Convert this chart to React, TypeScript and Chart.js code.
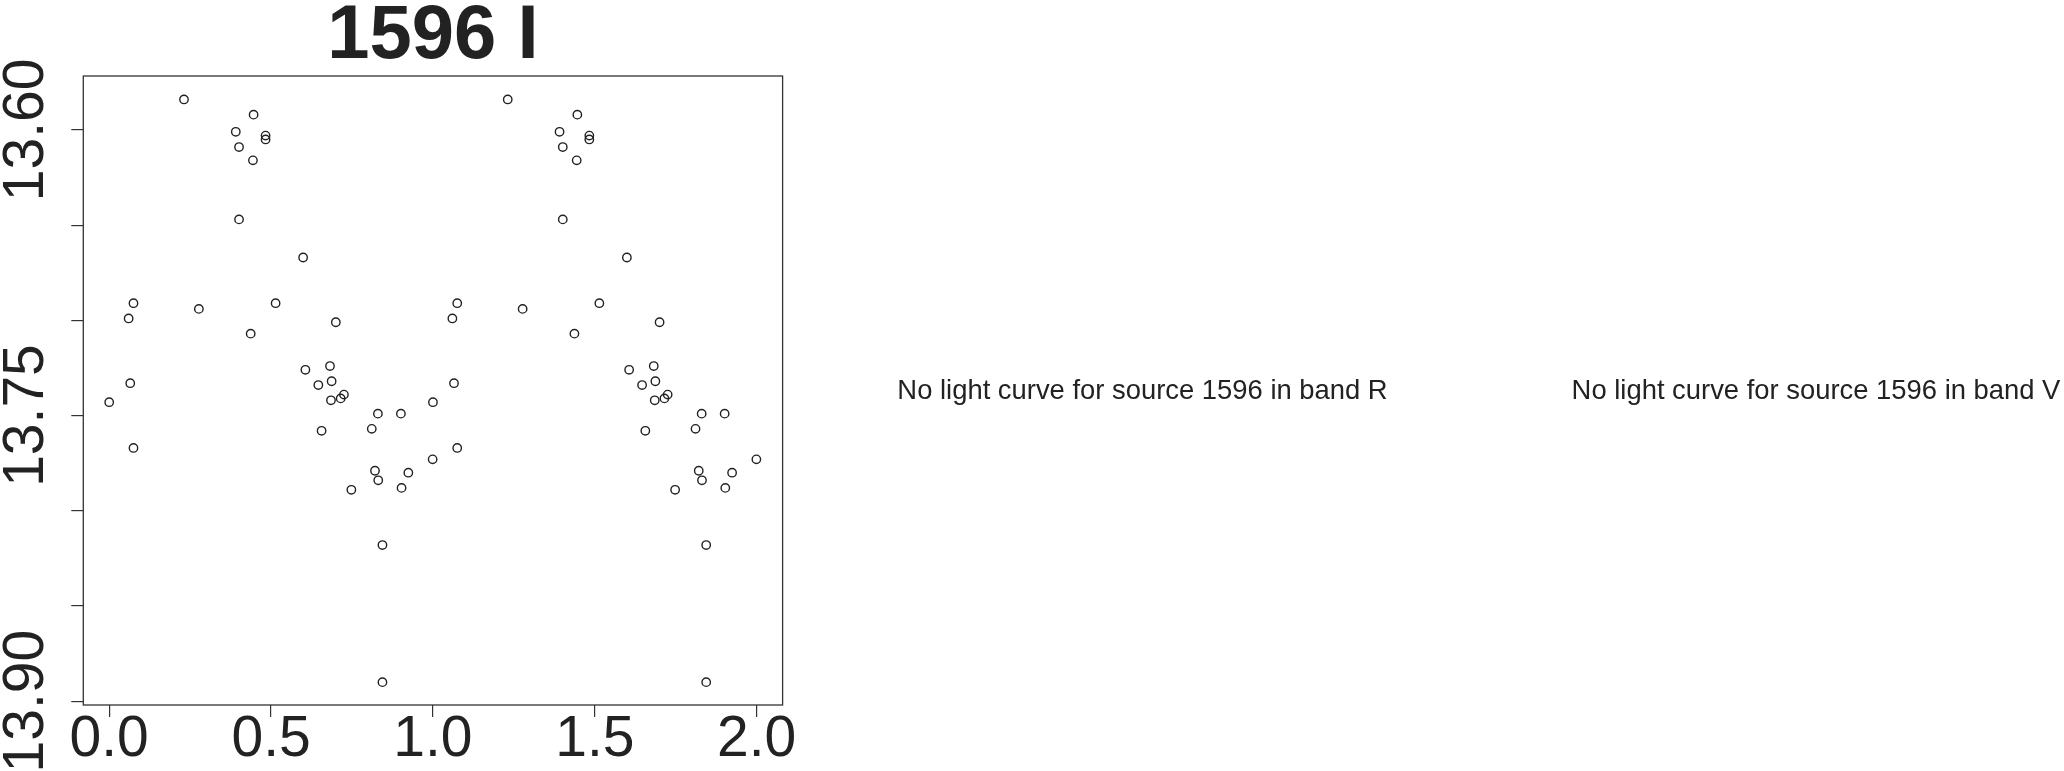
import React, { useEffect, useRef } from "react";
import { Chart, registerables } from "chart.js";

Chart.register(...registerables);

// ---- data (phase-folded light curve, band I) ----
const PHASE = [
  0.000, 0.060, 0.065, 0.075, 0.075, 0.231, 0.277, 0.391, 0.401, 0.401,
  0.437, 0.444, 0.446, 0.483, 0.483, 0.514, 0.599, 0.606, 0.646, 0.656,
  0.682, 0.685, 0.687, 0.700, 0.715, 0.725, 0.748, 0.811, 0.821, 0.830,
  0.831, 0.844, 0.844, 0.901, 0.903, 0.924, 0.999,
];
const MAG = [
  13.743, 13.699, 13.733, 13.691, 13.767, 13.584, 13.694, 13.601, 13.609, 13.647,
  13.707, 13.616, 13.592, 13.603, 13.605, 13.691, 13.667, 13.726, 13.734, 13.758,
  13.724, 13.742, 13.732, 13.701, 13.741, 13.739, 13.789, 13.757, 13.779, 13.749,
  13.784, 13.818, 13.890, 13.749, 13.788, 13.780, 13.773,
];
const CYCLE_OFFSETS = [0, 1];

const X_TICKS = [0, 0.5, 1, 1.5, 2];
const X_TICK_LABELS = ["0.0", "0.5", "1.0", "1.5", "2.0"];
const Y_TICKS = [13.6, 13.65, 13.7, 13.75, 13.8, 13.85, 13.9];
const Y_TICK_LABELS = ["13.60", "", "", "13.75", "", "", "13.90"];

const TITLE = "1596 I";
const MISSING_TEXTS = [
  "No light curve for source 1596 in band R",
  "No light curve for source 1596 in band V",
];

const FONT = '"Liberation Sans", Arial, Helvetica, sans-serif';
const INK = "#222222";

const framePlugin = {
  id: "rframe",
  beforeDatasetsDraw(chart: any) {
    const { ctx, chartArea } = chart;
    const { left, top, right, bottom } = chartArea;
    ctx.save();
    ctx.strokeStyle = "#333333";
    ctx.lineWidth = 1.3;
    ctx.strokeRect(left, top, right - left, bottom - top);
    ctx.restore();
  },
  afterDraw(chart: any) {
    const { ctx, chartArea } = chart;
    const yScale = chart.scales.y;
    ctx.save();
    ctx.fillStyle = INK;
    ctx.font = `57px ${FONT}`;
    ctx.textAlign = "center";
    ctx.textBaseline = "alphabetic";
    yScale.ticks.forEach((t: any) => {
      if (!t.label) return;
      const py = yScale.getPixelForValue(t.value);
      ctx.save();
      ctx.translate(chartArea.left - 40, py);
      ctx.rotate(-Math.PI / 2);
      ctx.fillText(String(t.label), 0, 0);
      ctx.restore();
    });
    ctx.font = `bold 76px ${FONT}`;
    ctx.fillText(TITLE, (chartArea.left + chartArea.right) / 2, 58.3);
    ctx.restore();
  },
};

export default function App() {
  const canvasRef = useRef<HTMLCanvasElement | null>(null);

  useEffect(() => {
    if (!canvasRef.current) return;
    const points = CYCLE_OFFSETS.flatMap((c) =>
      PHASE.map((p, i) => ({ x: p + c, y: MAG[i] }))
    );
    const chart = new Chart(canvasRef.current, {
      type: "scatter",
      data: {
        datasets: [
          {
            data: points,
            pointStyle: "circle",
            pointRadius: 4.2,
            pointHoverRadius: 4.2,
            pointBorderWidth: 1.4,
            pointBorderColor: INK,
            pointBackgroundColor: "rgba(0,0,0,0)",
            showLine: false,
          },
        ],
      },
      options: {
        animation: false,
        responsive: false,
        devicePixelRatio: 1,
        events: [],
        layout: { padding: { left: 0, top: 76, right: 2064 - 782.6, bottom: 0 } },
        plugins: {
          legend: { display: false },
          tooltip: { enabled: false },
          title: { display: false },
        },
        scales: {
          x: {
            type: "linear",
            min: -0.08,
            max: 2.08,
            afterBuildTicks: (s: any) => {
              s.ticks = X_TICKS.map((v) => ({ value: v }));
            },
            afterFit: (s: any) => {
              s.height = 66;
            },
            ticks: {
              autoSkip: false,
              maxRotation: 0,
              minRotation: 0,
              padding: -5.25,
              color: INK,
              font: { family: FONT, size: 57, lineHeight: 1 },
              callback: (_v: any, i: number) => X_TICK_LABELS[i] ?? "",
            },
            grid: {
              drawOnChartArea: false,
              drawTicks: true,
              tickLength: 12,
              color: "#333333",
              lineWidth: 1.2,
            },
            border: { display: false },
          },
          y: {
            type: "linear",
            reverse: true,
            min: 13.5717,
            max: 13.902,
            afterBuildTicks: (s: any) => {
              s.ticks = Y_TICKS.map((v) => ({ value: v }));
            },
            afterFit: (s: any) => {
              s.width = 83.3;
            },
            ticks: {
              display: false,
              autoSkip: false,
              callback: (_v: any, i: number) => Y_TICK_LABELS[i] ?? "",
            },
            grid: {
              drawOnChartArea: false,
              drawTicks: true,
              tickLength: 12,
              color: "#333333",
              lineWidth: 1.2,
            },
            border: { display: false },
          },
        },
      },
      plugins: [framePlugin],
    } as any);
    return () => chart.destroy();
  }, []);

  const textStyle = (cx: number): React.CSSProperties => ({
    position: "absolute",
    left: cx,
    top: 376.2,
    transform: "translateX(-50%)",
    fontFamily: FONT,
    fontSize: "27.4px",
    lineHeight: 1,
    whiteSpace: "nowrap",
    color: INK,
  });

  return (
    <div
      style={{
        position: "absolute",
        left: 0,
        top: 0,
        width: 2064,
        height: 771,
        background: "#ffffff",
        overflow: "hidden",
      }}
    >
      <canvas
        ref={canvasRef}
        width={2064}
        height={771}
        style={{ display: "block", width: 2064, height: 771 }}
      />
      <div style={textStyle(1142.5)}>{MISSING_TEXTS[0]}</div>
      <div style={textStyle(1816)}>{MISSING_TEXTS[1]}</div>
    </div>
  );
}
